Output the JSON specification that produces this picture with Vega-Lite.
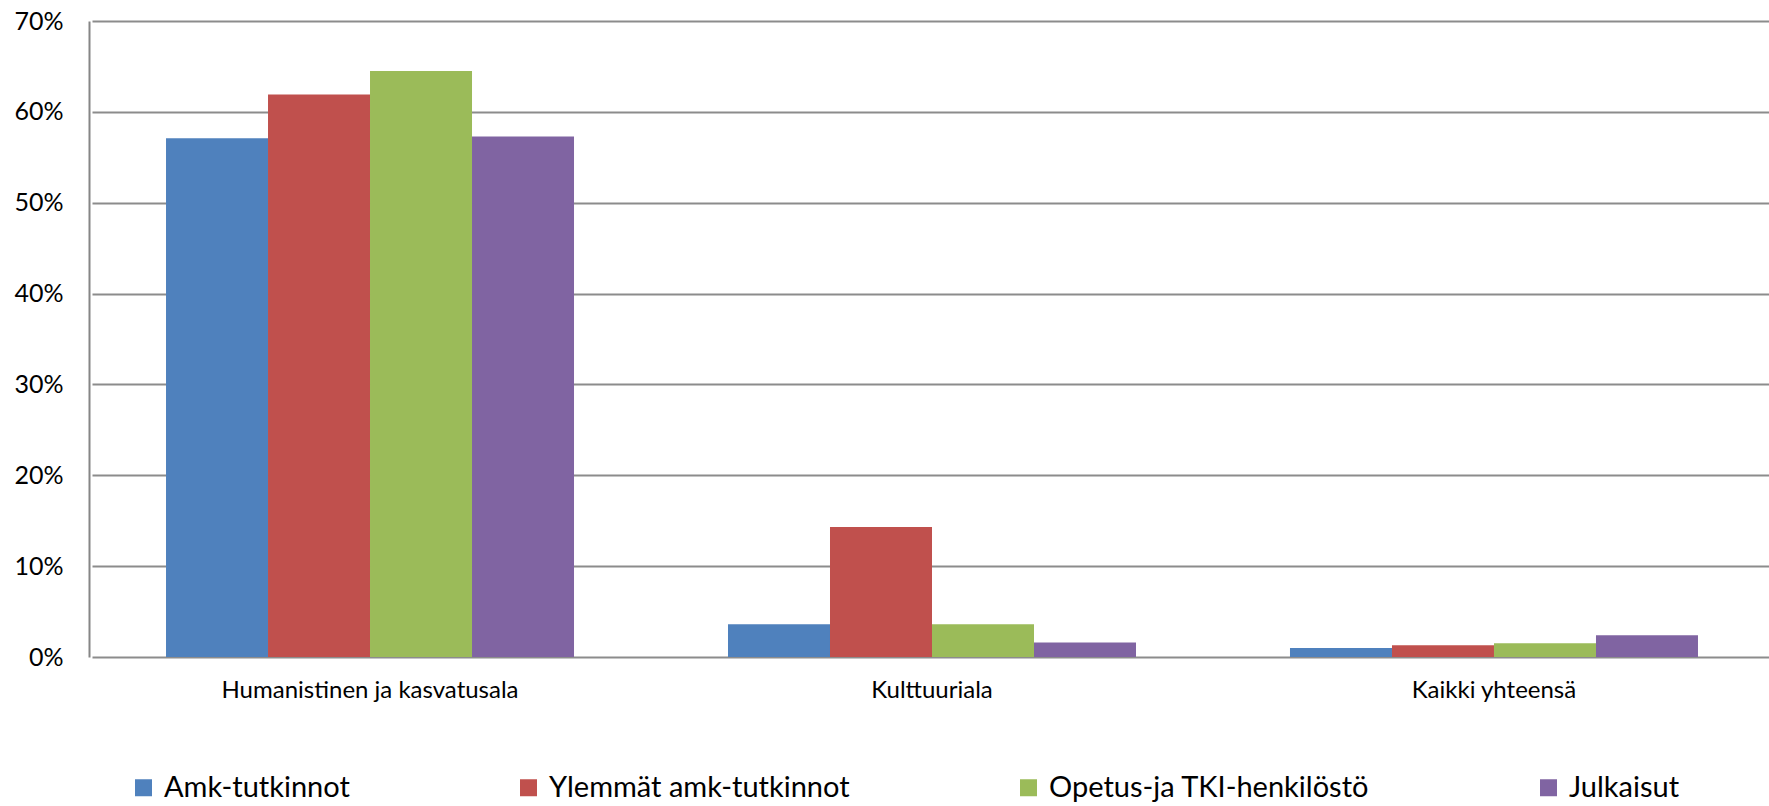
{
  "$schema": "https://vega.github.io/schema/vega-lite/v6.json",
  "width": 1680,
  "height": 636,
  "autosize": {"type": "none"},
  "padding": {"left": 89, "top": 21, "right": 0, "bottom": 149},
  "background": "white",
  "data": {
    "values": [
      {"ala": "Humanistinen ja kasvatusala", "sarja": "Amk-tutkinnot", "arvo": 0.571},
      {"ala": "Humanistinen ja kasvatusala", "sarja": "Ylemmät amk-tutkinnot", "arvo": 0.619},
      {"ala": "Humanistinen ja kasvatusala", "sarja": "Opetus-ja TKI-henkilöstö", "arvo": 0.645},
      {"ala": "Humanistinen ja kasvatusala", "sarja": "Julkaisut", "arvo": 0.573},
      {"ala": "Kulttuuriala", "sarja": "Amk-tutkinnot", "arvo": 0.036},
      {"ala": "Kulttuuriala", "sarja": "Ylemmät amk-tutkinnot", "arvo": 0.143},
      {"ala": "Kulttuuriala", "sarja": "Opetus-ja TKI-henkilöstö", "arvo": 0.036},
      {"ala": "Kulttuuriala", "sarja": "Julkaisut", "arvo": 0.016},
      {"ala": "Kaikki yhteensä", "sarja": "Amk-tutkinnot", "arvo": 0.010},
      {"ala": "Kaikki yhteensä", "sarja": "Ylemmät amk-tutkinnot", "arvo": 0.013},
      {"ala": "Kaikki yhteensä", "sarja": "Opetus-ja TKI-henkilöstö", "arvo": 0.015},
      {"ala": "Kaikki yhteensä", "sarja": "Julkaisut", "arvo": 0.024}
    ]
  },
  "mark": {"type": "bar"},
  "encoding": {
    "x": {
      "field": "ala",
      "type": "nominal",
      "sort": ["Humanistinen ja kasvatusala", "Kulttuuriala", "Kaikki yhteensä"],
      "scale": {"range": [3, 1683], "paddingInner": 0.274, "paddingOuter": 0.1317},
      "axis": {
        "title": null,
        "labelAngle": 0,
        "labelFont": "Lato",
        "labelFontSize": 24,
        "labelColor": "#000000",
        "labelPadding": 21,
        "labelLimit": 1000,
        "ticks": false,
        "domain": false,
        "grid": false
      }
    },
    "xOffset": {
      "field": "sarja",
      "type": "nominal",
      "sort": ["Amk-tutkinnot", "Ylemmät amk-tutkinnot", "Opetus-ja TKI-henkilöstö", "Julkaisut"],
      "scale": {"paddingInner": 0, "paddingOuter": 0}
    },
    "y": {
      "field": "arvo",
      "type": "quantitative",
      "scale": {"domain": [0, 0.7], "nice": false},
      "axis": {
        "title": null,
        "values": [0, 0.1, 0.2, 0.3, 0.4, 0.5, 0.6, 0.7],
        "format": ".0%",
        "labelFont": "Lato",
        "labelFontSize": 25,
        "labelColor": "#000000",
        "labelPadding": 26,
        "ticks": false,
        "domain": true,
        "domainColor": "#868686",
        "domainWidth": 2,
        "grid": true,
        "gridColor": "#8c8c8c",
        "gridWidth": 2
      }
    },
    "color": {
      "field": "sarja",
      "type": "nominal",
      "sort": ["Amk-tutkinnot", "Ylemmät amk-tutkinnot", "Opetus-ja TKI-henkilöstö", "Julkaisut"],
      "scale": {
        "domain": ["Amk-tutkinnot", "Ylemmät amk-tutkinnot", "Opetus-ja TKI-henkilöstö", "Julkaisut"],
        "range": ["#4F81BD", "#C0504D", "#9BBB59", "#8064A2"]
      },
      "legend": {
        "title": null,
        "orient": "none",
        "legendX": 40,
        "legendY": 752,
        "direction": "horizontal",
        "columns": 4,
        "columnPadding": 164,
        "symbolType": "square",
        "symbolSize": 289,
        "symbolStrokeWidth": 0,
        "symbolOffset": 0,
        "labelFont": "Lato",
        "labelFontSize": 29,
        "labelColor": "#000000",
        "labelLimit": 600,
        "labelOffset": 6
      }
    }
  },
  "config": {"view": {"stroke": null}}
}
